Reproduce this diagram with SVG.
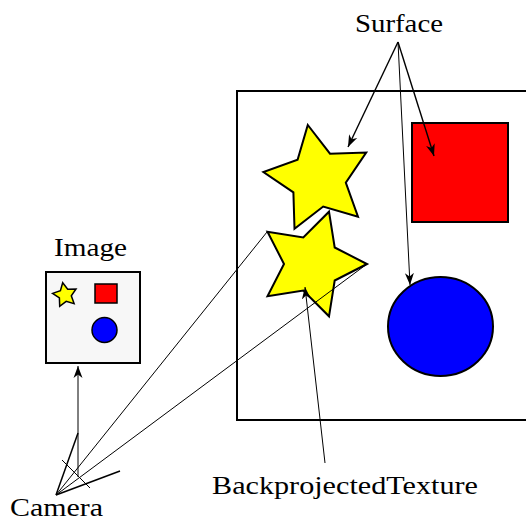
<svg xmlns="http://www.w3.org/2000/svg" width="526" height="523" viewBox="0 0 526 523">
<style>
  text { font-family: "Liberation Serif", "DejaVu Serif", serif; font-size: 26px; fill: #000; }
  .shape { stroke: #000; stroke-width: 2; stroke-linejoin: miter; }
  .conn { stroke: #000; fill: none; }
</style>
<defs>
  <marker id="arr" markerUnits="userSpaceOnUse" markerWidth="14" markerHeight="12" viewBox="-12 -6 14 12" refX="0" refY="0" orient="auto">
    <path d="M0,0 L-12,-4.5 L-8.5,0 L-12,4.5 Z" fill="#000"/>
  </marker>
</defs>
<rect width="526" height="523" fill="#fff"/>

<g id="surface-frame">
  <polyline points="527,91 237,91 237,420 527,420" fill="none" stroke="#000" stroke-width="2"/>
</g>

<g id="star-surface">
  <polygon class="shape" fill="#ffff00" points="307.8,125.0 330.0,153.7 366.2,152.6 345.8,182.6 358.0,216.7 323.2,206.5 294.5,228.7 293.4,192.4 263.4,172.0 297.6,159.8"/>
</g>
<g id="star-backprojected">
  <polygon class="shape" fill="#ffff00" points="367,264 334.7,280.5 329,316.3 303.3,290.6 267.5,296.3 284,264 267.5,231.7 303.3,237.4 329,211.7 334.7,247.5"/>
</g>
<g id="red-square">
  <rect class="shape" fill="#ff0000" x="412" y="123" width="96" height="99"/>
</g>
<g id="blue-circle">
  <ellipse class="shape" fill="#0000ff" cx="440.5" cy="326.5" rx="52.5" ry="49.5"/>
</g>

<g id="image">
  <rect x="46" y="272" width="94" height="91" fill="#f7f7f7" stroke="#000" stroke-width="2"/>
  <polygon fill="#ffff00" stroke="#000" stroke-width="1.5" points="62.7,282.7 67.7,289.2 76.0,289.0 71.3,295.8 74.1,303.6 66.2,301.3 59.7,306.3 59.4,298.0 52.6,293.4 60.4,290.6"/>
  <rect x="95" y="284" width="22" height="19" fill="#ff0000" stroke="#000" stroke-width="1.5"/>
  <circle cx="104.5" cy="330" r="12.5" fill="#0000ff" stroke="#000" stroke-width="1.5"/>
</g>

<g id="labels">
  <text x="355" y="32" textLength="88" lengthAdjust="spacingAndGlyphs">Surface</text>
  <text x="54" y="256" textLength="73" lengthAdjust="spacingAndGlyphs">Image</text>
  <text x="10" y="516" font-size="25" textLength="93" lengthAdjust="spacingAndGlyphs">Camera</text>
  <text x="212" y="494" textLength="266" lengthAdjust="spacingAndGlyphs">BackprojectedTexture</text>
</g>

<g id="connectors">
  <line class="conn" stroke-width="1.4" x1="398" y1="42" x2="348" y2="147" marker-end="url(#arr)"/>
  <line class="conn" stroke-width="1.4" x1="398" y1="42" x2="434" y2="156" marker-end="url(#arr)"/>
  <line class="conn" stroke-width="1" x1="398" y1="42" x2="410" y2="285" marker-end="url(#arr)"/>
  <line class="conn" stroke-width="1" x1="325" y1="463" x2="305" y2="287" marker-end="url(#arr)"/>
  <line class="conn" stroke-width="1" x1="78" y1="477" x2="78" y2="366" marker-end="url(#arr)"/>
  <line class="conn" stroke-width="1" x1="56" y1="495" x2="267" y2="232"/>
  <line class="conn" stroke-width="1" x1="56" y1="495" x2="367" y2="264"/>
  <line class="conn" stroke-width="1.5" x1="56" y1="495" x2="78" y2="433"/>
  <line class="conn" stroke-width="1.5" x1="56" y1="495" x2="120" y2="471"/>
  <line class="conn" stroke-width="1" x1="62" y1="460" x2="90" y2="488"/>
</g>
</svg>
